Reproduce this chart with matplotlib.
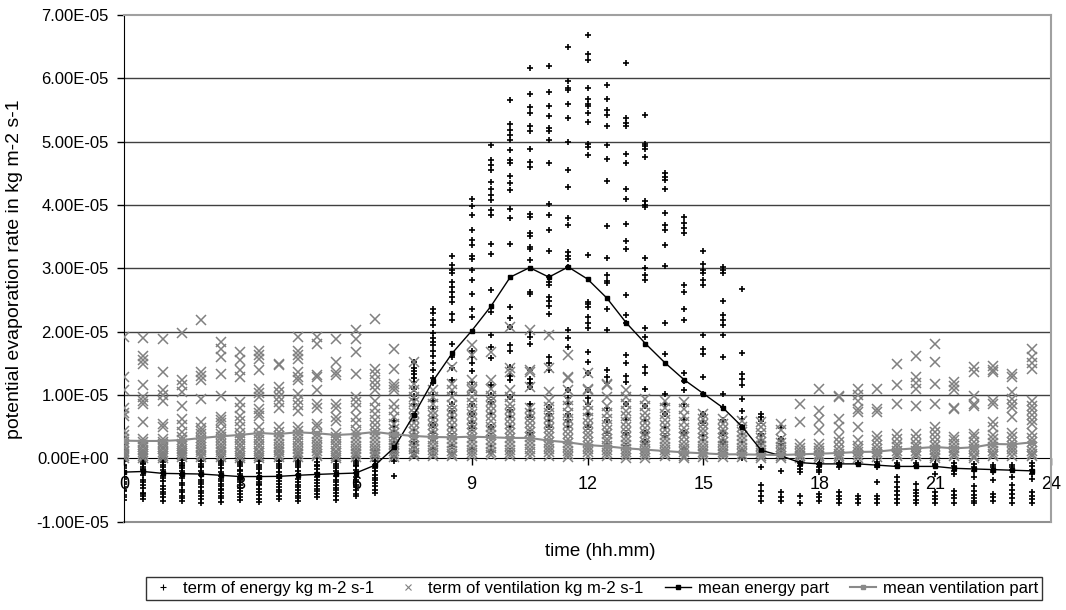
import matplotlib
matplotlib.use("Agg")
import matplotlib.pyplot as plt
from matplotlib.lines import Line2D
from matplotlib.ticker import FuncFormatter

plt.rcParams['font.family'] = ['Liberation Sans', 'DejaVu Sans']

# time of day (hours), one column of points every half hour
hours = [0.0, 0.5, 1.0, 1.5, 2.0, 2.5, 3.0, 3.5, 4.0, 4.5, 5.0, 5.5,
         6.0, 6.5, 7.0, 7.5, 8.0, 8.5, 9.0, 9.5, 10.0, 10.5, 11.0, 11.5,
         12.0, 12.5, 13.0, 13.5, 14.0, 14.5, 15.0, 15.5, 16.0, 16.5, 17.0, 17.5,
         18.0, 18.5, 19.0, 19.5, 20.0, 20.5, 21.0, 21.5, 22.0, 22.5, 23.0, 23.5]

# term of energy, values in 1e-5 kg m-2 s-1, one list per half hour
energy = [
    [0.02, -0.05, -0.1, -0.15, -0.2, -0.22, -0.3, -0.33, -0.38, -0.4, -0.45, -0.5, -0.52, -0.58, -0.62, -0.66, -0.12],
    [0.01, -0.04, -0.09, -0.17, -0.19, -0.26, -0.35, -0.37, -0.42, -0.47, -0.55, -0.57, -0.6, -0.64, -0.08, -0.14],
    [0.0, -0.06, -0.11, -0.18, -0.24, -0.28, -0.31, -0.36, -0.44, -0.49, -0.53, -0.56, -0.61, -0.68, -0.03, -0.14],
    [0.01, -0.03, -0.1, -0.16, -0.21, -0.27, -0.32, -0.39, -0.43, -0.5, -0.54, -0.59, -0.63, -0.67, -0.07, -0.13],
    [0.0, -0.05, -0.09, -0.14, -0.2, -0.26, -0.34, -0.37, -0.41, -0.46, -0.52, -0.55, -0.6, -0.65, -0.7, -0.12],
    [0.02, -0.04, -0.1, -0.15, -0.22, -0.28, -0.33, -0.36, -0.4, -0.44, -0.48, -0.51, -0.55, -0.59, -0.63, -0.69, -0.07],
    [0.0, -0.06, -0.12, -0.18, -0.25, -0.3, -0.34, -0.38, -0.42, -0.47, -0.52, -0.57, -0.62, -0.66, -0.09, -0.2],
    [0.01, -0.05, -0.11, -0.17, -0.23, -0.29, -0.33, -0.37, -0.4, -0.43, -0.49, -0.53, -0.58, -0.64, -0.69, -0.14],
    [0.0, -0.04, -0.09, -0.16, -0.22, -0.27, -0.31, -0.36, -0.41, -0.45, -0.5, -0.54, -0.6, -0.65, -0.12],
    [0.02, -0.05, -0.1, -0.14, -0.21, -0.26, -0.33, -0.38, -0.42, -0.46, -0.51, -0.55, -0.59, -0.63, -0.67, -0.08],
    [0.0, -0.06, -0.1, -0.17, -0.23, -0.3, -0.35, -0.39, -0.44, -0.48, -0.52, -0.57, -0.62, -0.13],
    [0.01, -0.04, -0.09, -0.15, -0.21, -0.28, -0.34, -0.37, -0.43, -0.47, -0.5, -0.55, -0.6, -0.66, -0.12],
    [0.02, -0.05, -0.1, -0.13, -0.18, -0.24, -0.3, -0.34, -0.38, -0.42, -0.46, -0.5, -0.56, -0.6, -0.08],
    [0.12, 0.05, 0.0, -0.05, -0.1, -0.15, -0.2, -0.26, -0.31, -0.35, -0.39, -0.44, -0.5, -0.55],
    [0.59, 0.49, 0.41, 0.33, 0.26, 0.22, 0.17, 0.12, 0.08, 0.04, 0.0, -0.05, -0.28],
    [1.52, 1.43, 1.38, 1.33, 1.27, 1.2, 1.1, 0.99, 0.93, 0.85, 0.7, 0.6, 0.44, 0.35, 0.25, 0.17, 0.1, 0.04],
    [2.36, 2.3, 2.18, 2.1, 1.97, 1.9, 1.84, 1.78, 1.7, 1.62, 1.5, 1.4, 1.27, 1.18, 1.0, 0.9, 0.78, 0.64, 0.52, 0.4, 0.28, 0.15, 0.05],
    [3.19, 3.05, 2.97, 2.92, 2.78, 2.7, 2.62, 2.55, 2.47, 2.28, 2.18, 1.81, 1.6, 1.43, 1.23, 1.05, 0.86, 0.75, 0.64, 0.5, 0.35, 0.2, 0.08],
    [4.1, 3.99, 3.84, 3.6, 3.44, 3.36, 3.2, 3.15, 2.97, 2.81, 2.6, 2.36, 2.23, 1.7, 1.6, 1.5, 1.38, 1.2, 1.07, 0.86, 0.7, 0.55, 0.48, 0.3, 0.15],
    [4.95, 4.71, 4.63, 4.55, 4.37, 4.25, 4.15, 4.08, 3.92, 3.84, 3.39, 3.23, 2.65, 2.31, 1.94, 1.75, 1.59, 1.15, 1.0, 0.88, 0.7, 0.5, 0.35, 0.2, 0.1],
    [5.66, 5.28, 5.18, 5.1, 5.02, 4.87, 4.71, 4.66, 4.45, 4.34, 4.23, 3.94, 3.8, 3.39, 2.39, 2.21, 2.07, 1.78, 1.7, 1.44, 1.3, 1.23, 0.97, 0.76, 0.65, 0.49, 0.3, 0.12],
    [6.17, 5.75, 5.54, 5.45, 5.25, 5.16, 4.89, 4.68, 4.6, 3.86, 3.81, 3.55, 3.51, 3.34, 3.3, 3.13, 2.63, 2.6, 1.99, 1.92, 1.81, 1.39, 1.25, 1.18, 1.13, 0.86, 0.75, 0.65, 0.39],
    [6.19, 5.78, 5.56, 5.41, 5.21, 5.16, 5.02, 4.67, 4.02, 3.84, 3.6, 3.28, 2.86, 2.79, 2.73, 2.55, 2.49, 2.41, 2.28, 1.6, 1.5, 1.39, 0.81, 0.7, 0.58, 0.49],
    [6.5, 5.95, 5.84, 5.81, 5.6, 5.37, 5.0, 4.55, 4.29, 3.79, 3.68, 3.26, 3.2, 3.15, 3.02, 2.02, 1.9, 1.76, 1.07, 0.95, 0.85, 0.7, 0.6, 0.49],
    [6.68, 6.39, 6.29, 5.85, 5.67, 5.6, 5.56, 5.45, 5.31, 4.97, 4.92, 4.79, 3.21, 2.47, 2.44, 2.39, 2.23, 2.14, 2.05, 1.68, 1.52, 1.34, 1.07, 0.95, 0.86, 0.7, 0.5],
    [5.9, 5.68, 5.5, 5.42, 5.24, 4.95, 4.72, 4.38, 3.66, 3.16, 2.89, 2.8, 2.76, 2.36, 2.02, 1.39, 1.28, 1.18, 0.8, 0.6, 0.4, 0.2],
    [6.24, 5.38, 5.3, 5.24, 4.8, 4.66, 4.25, 4.09, 3.7, 3.43, 3.31, 2.58, 2.26, 2.13, 1.63, 1.5, 1.3, 1.2, 0.85, 0.6, 0.4, 0.2],
    [5.42, 4.97, 4.93, 4.89, 4.76, 4.07, 4.0, 3.96, 3.16, 3.0, 2.9, 2.81, 2.05, 1.92, 1.44, 1.34, 1.1, 0.82, 0.6, 0.4, 0.25],
    [4.5, 4.44, 4.39, 4.25, 3.88, 3.68, 3.61, 3.36, 3.03, 2.13, 1.65, 1.02, 0.86, 0.7, 0.5, 0.35],
    [3.81, 3.72, 3.63, 3.55, 2.73, 2.63, 2.35, 2.18, 1.35, 1.22, 1.07, 0.86, 0.6, 0.4, 0.15],
    [3.28, 3.07, 2.98, 2.92, 2.81, 2.73, 1.94, 1.73, 1.65, 1.28, 1.02, 0.7, 0.55, 0.36, 0.28],
    [3.02, 2.97, 2.92, 2.49, 2.26, 2.18, 2.1, 1.94, 1.6, 1.02, 0.81, 0.6, 0.4, 0.25],
    [2.68, 1.66, 1.33, 1.25, 1.15, 0.94, 0.75, 0.62, 0.49, 0.38, 0.25, 0.12, 0.01],
    [0.7, 0.65, 0.59, 0.38, 0.25, 0.1, -0.14, -0.43, -0.52, -0.6, -0.67],
    [0.48, 0.3, 0.22, 0.14, 0.07, -0.2, -0.54, -0.62, -0.67],
    [0.05, -0.07, -0.12, -0.17, -0.22, -0.59, -0.7],
    [-0.09, -0.14, -0.18, -0.22, -0.57, -0.62, -0.67],
    [-0.07, -0.09, -0.14, -0.54, -0.6, -0.65, -0.7],
    [-0.07, -0.09, -0.59, -0.65, -0.7],
    [-0.06, -0.1, -0.14, -0.38, -0.59, -0.65, -0.7],
    [-0.08, -0.12, -0.3, -0.38, -0.46, -0.52, -0.58, -0.64, -0.7],
    [-0.08, -0.12, -0.4, -0.5, -0.55, -0.6, -0.66, -0.7],
    [-0.09, -0.12, -0.25, -0.54, -0.6, -0.65, -0.7],
    [-0.08, -0.13, -0.2, -0.25, -0.52, -0.58, -0.63, -0.7],
    [-0.09, -0.14, -0.2, -0.3, -0.44, -0.52, -0.58, -0.63, -0.68, -0.7],
    [-0.1, -0.14, -0.18, -0.22, -0.35, -0.57, -0.62, -0.68],
    [-0.1, -0.14, -0.18, -0.3, -0.42, -0.5, -0.57, -0.63, -0.7],
    [-0.07, -0.12, -0.18, -0.25, -0.33, -0.54, -0.6, -0.65, -0.7],
]

# term of ventilation, values in 1e-5 kg m-2 s-1, one list per half hour
ventilation = [
    [1.92, 1.28, 1.07, 0.8, 0.72, 0.67, 0.43, 0.36, 0.3, 0.25, 0.2, 0.16, 0.12, 0.09, 0.06, 0.03, 0.01],
    [1.9, 1.62, 1.55, 1.49, 1.15, 0.96, 0.9, 0.86, 0.57, 0.3, 0.26, 0.21, 0.17, 0.13, 0.1, 0.07, 0.04, 0.01],
    [1.89, 1.36, 1.07, 1.0, 0.91, 0.54, 0.49, 0.3, 0.26, 0.22, 0.18, 0.14, 0.1, 0.07, 0.04, 0.01],
    [1.98, 1.23, 1.15, 1.04, 0.83, 0.62, 0.52, 0.41, 0.33, 0.28, 0.23, 0.19, 0.15, 0.11, 0.08, 0.05, 0.02],
    [2.18, 1.36, 1.3, 1.23, 0.94, 0.57, 0.48, 0.43, 0.38, 0.32, 0.27, 0.22, 0.17, 0.13, 0.09, 0.05, 0.02],
    [1.83, 1.72, 1.6, 1.33, 0.99, 0.65, 0.6, 0.55, 0.45, 0.38, 0.33, 0.28, 0.23, 0.18, 0.13, 0.09, 0.05, 0.02],
    [1.67, 1.55, 1.4, 1.28, 0.88, 0.8, 0.67, 0.58, 0.49, 0.4, 0.34, 0.28, 0.22, 0.17, 0.12, 0.08, 0.04, 0.01],
    [1.7, 1.63, 1.57, 1.4, 1.1, 1.03, 0.96, 0.78, 0.72, 0.67, 0.49, 0.4, 0.34, 0.28, 0.22, 0.17, 0.12, 0.08, 0.04, 0.01],
    [1.49, 1.47, 1.12, 1.04, 0.96, 0.88, 0.8, 0.49, 0.42, 0.35, 0.29, 0.23, 0.18, 0.13, 0.09, 0.05, 0.02],
    [1.91, 1.7, 1.63, 1.57, 1.36, 1.28, 1.23, 1.02, 0.92, 0.84, 0.75, 0.49, 0.43, 0.37, 0.31, 0.26, 0.2, 0.15, 0.1, 0.06, 0.02],
    [1.91, 1.81, 1.31, 1.28, 1.07, 0.86, 0.8, 0.54, 0.49, 0.38, 0.32, 0.26, 0.21, 0.16, 0.11, 0.07, 0.03],
    [1.89, 1.52, 1.36, 1.31, 0.86, 0.8, 0.65, 0.59, 0.4, 0.34, 0.28, 0.22, 0.17, 0.12, 0.08, 0.04, 0.01],
    [2.03, 1.89, 1.67, 1.33, 0.96, 0.88, 0.8, 0.65, 0.55, 0.44, 0.38, 0.32, 0.26, 0.2, 0.15, 0.1, 0.06, 0.02],
    [2.2, 1.41, 1.33, 1.23, 1.15, 1.07, 0.9, 0.8, 0.7, 0.6, 0.52, 0.45, 0.38, 0.32, 0.26, 0.2, 0.15, 0.1, 0.06, 0.02],
    [1.73, 1.41, 1.17, 1.12, 1.07, 0.86, 0.76, 0.65, 0.54, 0.46, 0.4, 0.34, 0.28, 0.22, 0.16, 0.11, 0.06, 0.02],
    [1.52, 1.17, 1.07, 0.96, 0.88, 0.8, 0.72, 0.64, 0.56, 0.48, 0.41, 0.34, 0.27, 0.2, 0.14, 0.08, 0.03],
    [1.07, 0.96, 0.86, 0.75, 0.68, 0.6, 0.52, 0.45, 0.38, 0.31, 0.25, 0.19, 0.13, 0.08, 0.03],
    [1.44, 1.17, 1.07, 0.96, 0.84, 0.76, 0.68, 0.6, 0.52, 0.44, 0.37, 0.3, 0.24, 0.18, 0.12, 0.07, 0.03],
    [1.78, 1.63, 1.23, 1.12, 1.07, 0.96, 0.87, 0.78, 0.7, 0.62, 0.54, 0.46, 0.39, 0.32, 0.25, 0.19, 0.13, 0.08, 0.03],
    [1.68, 1.23, 1.1, 0.98, 0.9, 0.82, 0.74, 0.66, 0.58, 0.5, 0.43, 0.36, 0.29, 0.22, 0.16, 0.1, 0.05],
    [2.07, 1.42, 1.36, 1.07, 0.96, 0.86, 0.78, 0.7, 0.62, 0.54, 0.46, 0.39, 0.32, 0.25, 0.19, 0.13, 0.08, 0.03],
    [2.02, 1.4, 1.36, 1.13, 0.8, 0.72, 0.64, 0.56, 0.48, 0.41, 0.34, 0.27, 0.21, 0.15, 0.09, 0.04],
    [1.94, 1.42, 1.04, 0.9, 0.81, 0.72, 0.64, 0.56, 0.48, 0.4, 0.33, 0.26, 0.2, 0.14, 0.09, 0.04],
    [1.63, 1.28, 1.26, 1.07, 0.92, 0.82, 0.72, 0.62, 0.54, 0.46, 0.38, 0.31, 0.24, 0.18, 0.12, 0.07, 0.02],
    [1.34, 1.09, 1.07, 0.84, 0.74, 0.64, 0.55, 0.47, 0.4, 0.33, 0.26, 0.2, 0.14, 0.09, 0.04],
    [1.17, 1.15, 0.96, 0.82, 0.72, 0.62, 0.53, 0.45, 0.38, 0.31, 0.25, 0.19, 0.13, 0.08, 0.03],
    [1.07, 0.96, 0.86, 0.75, 0.66, 0.57, 0.49, 0.41, 0.34, 0.27, 0.21, 0.15, 0.1, 0.05, 0.01],
    [0.94, 0.82, 0.72, 0.63, 0.55, 0.47, 0.4, 0.33, 0.26, 0.2, 0.15, 0.1, 0.05, 0.01],
    [0.9, 0.8, 0.7, 0.6, 0.52, 0.44, 0.37, 0.3, 0.24, 0.18, 0.13, 0.08, 0.03],
    [0.88, 0.77, 0.66, 0.57, 0.48, 0.4, 0.33, 0.26, 0.2, 0.14, 0.09, 0.04, 0.01],
    [0.7, 0.62, 0.54, 0.46, 0.39, 0.32, 0.26, 0.2, 0.15, 0.1, 0.06, 0.02],
    [0.62, 0.54, 0.46, 0.39, 0.32, 0.26, 0.2, 0.15, 0.1, 0.06, 0.02],
    [0.58, 0.5, 0.42, 0.35, 0.28, 0.22, 0.16, 0.11, 0.06, 0.02],
    [0.57, 0.49, 0.4, 0.32, 0.25, 0.19, 0.13, 0.08, 0.04, 0.01],
    [0.54, 0.44, 0.3, 0.24, 0.18, 0.13, 0.08, 0.04, 0.01],
    [0.86, 0.57, 0.22, 0.16, 0.11, 0.07, 0.03, 0.01],
    [1.09, 0.75, 0.6, 0.44, 0.22, 0.16, 0.11, 0.07, 0.03, 0.01],
    [0.99, 0.96, 0.62, 0.5, 0.33, 0.25, 0.18, 0.12, 0.07, 0.03, 0.01],
    [1.09, 1.0, 0.91, 0.78, 0.73, 0.49, 0.28, 0.2, 0.14, 0.09, 0.05, 0.01],
    [1.09, 0.78, 0.73, 0.35, 0.28, 0.21, 0.15, 0.1, 0.06, 0.02],
    [1.49, 1.15, 0.85, 0.38, 0.3, 0.23, 0.17, 0.12, 0.07, 0.03],
    [1.62, 1.28, 1.18, 1.09, 0.83, 0.38, 0.3, 0.23, 0.17, 0.12, 0.07, 0.03],
    [1.8, 1.52, 1.17, 0.86, 0.49, 0.42, 0.33, 0.26, 0.19, 0.13, 0.08, 0.04, 0.01],
    [1.2, 1.14, 1.07, 0.8, 0.78, 0.33, 0.28, 0.22, 0.16, 0.11, 0.07, 0.03],
    [1.44, 1.36, 0.99, 0.86, 0.83, 0.38, 0.33, 0.26, 0.2, 0.14, 0.09, 0.04, 0.01],
    [1.46, 1.39, 1.36, 0.91, 0.86, 0.57, 0.49, 0.36, 0.3, 0.24, 0.18, 0.12, 0.07, 0.03],
    [1.33, 1.28, 1.04, 0.94, 0.86, 0.8, 0.65, 0.4, 0.33, 0.26, 0.2, 0.14, 0.09, 0.04],
    [1.73, 1.6, 1.5, 1.41, 0.91, 0.83, 0.76, 0.68, 0.6, 0.54, 0.4, 0.32, 0.25, 0.18, 0.12, 0.07, 0.03],
]

# half-hourly means, in 1e-5 kg m-2 s-1
mean_energy = [-0.22, -0.21, -0.24, -0.245, -0.25, -0.27, -0.29, -0.29, -0.287, -0.27, -0.256, -0.245,
               -0.235, -0.11, 0.17, 0.68, 1.22, 1.66, 2.01, 2.4, 2.86, 3.01, 2.86, 3.02,
               2.83, 2.53, 2.14, 1.81, 1.51, 1.24, 1.02, 0.8, 0.5, 0.124, 0.04, -0.07,
               -0.09, -0.09, -0.09, -0.11, -0.13, -0.13, -0.13, -0.16, -0.17, -0.18, -0.19, -0.2]
mean_ventilation = [0.277, 0.272, 0.272, 0.287, 0.319, 0.346, 0.367, 0.398, 0.382, 0.409, 0.393, 0.367,
                    0.382, 0.414, 0.377, 0.351, 0.335, 0.33, 0.34, 0.33, 0.32, 0.32, 0.277, 0.25,
                    0.208, 0.187, 0.156, 0.135, 0.113, 0.092, 0.077, 0.061, 0.061, 0.055, 0.05, 0.061,
                    0.071, 0.082, 0.098, 0.103, 0.135, 0.156, 0.177, 0.156, 0.172, 0.224, 0.219, 0.25]

UNIT = 1e-5
x_ticks = [0, 3, 6, 9, 12, 15, 18, 21, 24]
y_ticks = [-1e-5, 0.0, 1e-5, 2e-5, 3e-5, 4e-5, 5e-5, 6e-5, 7e-5]

fig = plt.figure(figsize=(10.66, 6.10), dpi=100)
ax = fig.add_axes([124 / 1066, 1 - 521.5 / 610, (1051 - 124) / 1066, (521.5 - 15) / 610])

grey = '#808080'

# scatter series
ex, ey = [], []
for h, vals in zip(hours, energy):
    for v in vals:
        ex.append(h)
        ey.append(v * UNIT)
vx, vy = [], []
for h, vals in zip(hours, ventilation):
    for v in vals:
        vx.append(h)
        vy.append(v * UNIT)

ax.plot(ex, ey, linestyle='none', marker='+', markersize=4.8, markeredgewidth=1.2,
        color='black', zorder=3)
ax.plot(vx, vy, linestyle='none', marker='x', markersize=6.5, markeredgewidth=1.1,
        color=grey, zorder=4)
ax.plot(hours, [v * UNIT for v in mean_energy], color='black', linewidth=1.0,
        marker='s', markersize=3, zorder=5)
ax.plot(hours, [v * UNIT for v in mean_ventilation], color='#8a8a8a', linewidth=1.5,
        marker='s', markersize=3, zorder=6)

ax.set_xlim(0, 24)
ax.set_ylim(-1e-5, 7e-5)
ax.set_xticks(x_ticks)
ax.set_yticks(y_ticks)
ax.yaxis.set_major_formatter(FuncFormatter(lambda v, p: '{:.2E}'.format(0.0 if abs(v) < 1e-12 else v)))

# gridlines
for yv in y_ticks[2:-1]:
    ax.axhline(yv, color='#404040', linewidth=1.0, zorder=1)

# spines: left axis black, x axis at zero, frame grey
ax.spines['bottom'].set_position(('data', 0))
ax.spines['bottom'].set_color('black')
ax.spines['bottom'].set_zorder(2)
ax.spines['left'].set_color('black')
ax.spines['top'].set_color('#a0a0a0')
ax.spines['right'].set_color('#a0a0a0')
ax.spines['top'].set_linewidth(1.5)
ax.spines['right'].set_linewidth(1.5)
ax.plot([0, 1], [0, 0], transform=ax.transAxes, color='#909090', linewidth=1.5,
        clip_on=False, zorder=2)

ax.tick_params(axis='y', direction='out', length=5, width=1, pad=6, labelsize=12)
ax.tick_params(axis='x', direction='out', length=5, width=1, pad=8, labelsize=13)

fig.text(600 / 1066, 1 - 552 / 610, 'time (hh.mm)', ha='center', va='center', fontsize=13.5)
fig.text(15 / 1066, 1 - 269 / 610, 'potential evaporation rate in kg m-2 s-1',
         ha='center', va='center', rotation=90, fontsize=14)

handles = [
    Line2D([], [], linestyle='none', marker='+', markersize=4.2, markeredgewidth=0.8, color='black'),
    Line2D([], [], linestyle='none', marker='x', markersize=4.5, markeredgewidth=0.8, color=grey),
    Line2D([], [], color='black', linewidth=1.0, marker='s', markersize=3),
    Line2D([], [], color='#8a8a8a', linewidth=1.5, marker='s', markersize=3),
]
labels = ['term of energy kg m-2 s-1', 'term of ventilation kg m-2 s-1',
          'mean energy part', 'mean ventilation part']
leg = fig.legend(handles, labels, loc='center', bbox_to_anchor=(594 / 1066, 1 - 588.5 / 610),
                 ncol=4, frameon=True, fancybox=False, fontsize=12, handlelength=1.6,
                 handletextpad=0.4, columnspacing=1.25, borderpad=0.25, borderaxespad=0)
leg.get_frame().set_edgecolor('black')
leg.get_frame().set_linewidth(1.0)

fig.savefig('out.png', dpi=100)
